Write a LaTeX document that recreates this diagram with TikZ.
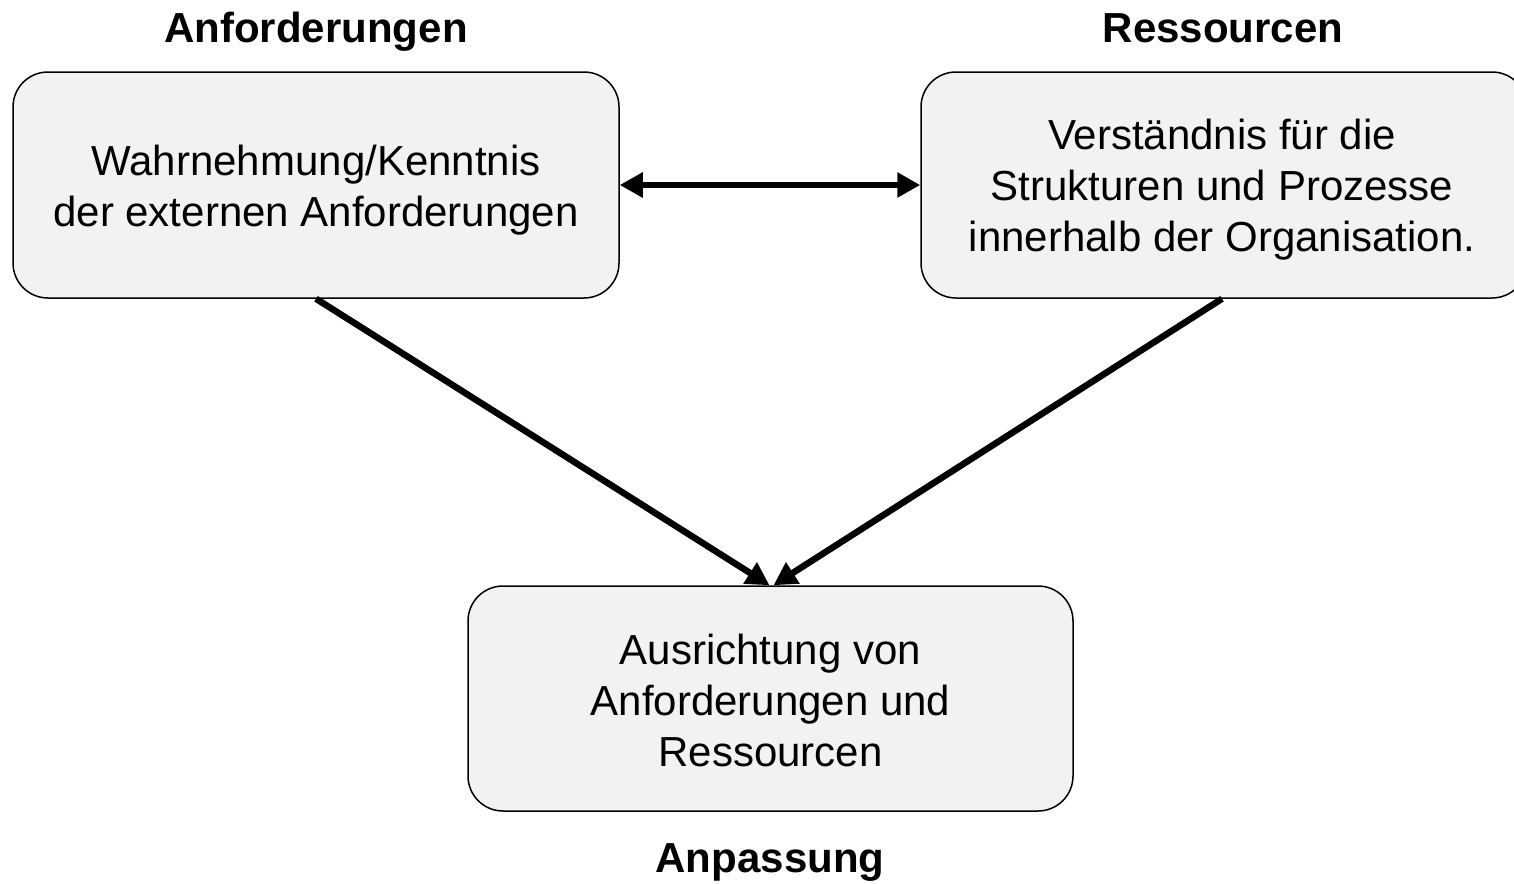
\documentclass[tikz,border=0pt]{standalone}
\usepackage{fontspec}
\setmainfont{Liberation Sans}
\usetikzlibrary{arrows.meta}
\definecolor{boxfill}{HTML}{F2F2F2}
\tikzset{
  roundbox/.style={draw=black, line width=1.5pt, fill=boxfill, rounded corners=35pt,
    minimum width=606pt, minimum height=226pt, inner sep=0pt},
  boxtext/.style={inner sep=0pt, align=center, font=\fontsize{42}{51}\selectfont},
  heading/.style={font=\fontsize{42}{51}\selectfont\bfseries, inner sep=0pt},
  link/.style={line width=6.5pt, -{Triangle[length=23pt,width=24pt]}},
  biglink/.style={line width=6.5pt, {Triangle[length=23pt,width=24pt]}-{Triangle[length=23pt,width=24pt]}}
}
\begin{document}
\begin{tikzpicture}[x=1pt,y=-1pt]
  \useasboundingbox (0,0) rectangle (1514,883);
  \clip (0,0) rectangle (1514,883);
  \fill[white] (0,0) rectangle (1514,883);

  % headings
  \node[heading, anchor=base] (hA) at (316,42) {Anforderungen};
  \node[heading, anchor=base] (hR) at (1223,42) {Ressourcen};
  \node[heading] (hP) at (770,862) {Anpassung};

  % boxes
  \node[roundbox] (left) at (316,185) {};
  \node[roundbox] (right) at (1224,185) {};
  \node[roundbox, minimum width=605pt, minimum height=225pt] (bottom) at (770.5,698.5) {};

  % box texts
  \node[boxtext] (lefttext) at (316,190) {Wahrnehmung/Kenntnis\\der externen Anforderungen};
  \node[boxtext] (righttext) at (1222,190) {Verständnis für die\\Strukturen und Prozesse\\innerhalb der Organisation.};
  \node[boxtext] (bottomtext) at (770.5,700.5) {Ausrichtung von\\Anforderungen und\\Ressourcen};

  % connectors
  \draw[biglink] (left.east) -- (right.west);
  \draw[link] (left.south) -- ([xshift=-1pt]bottom.north);
  \draw[link] ([xshift=-2pt]right.south) -- ([xshift=3pt]bottom.north);
\end{tikzpicture}
\end{document}
